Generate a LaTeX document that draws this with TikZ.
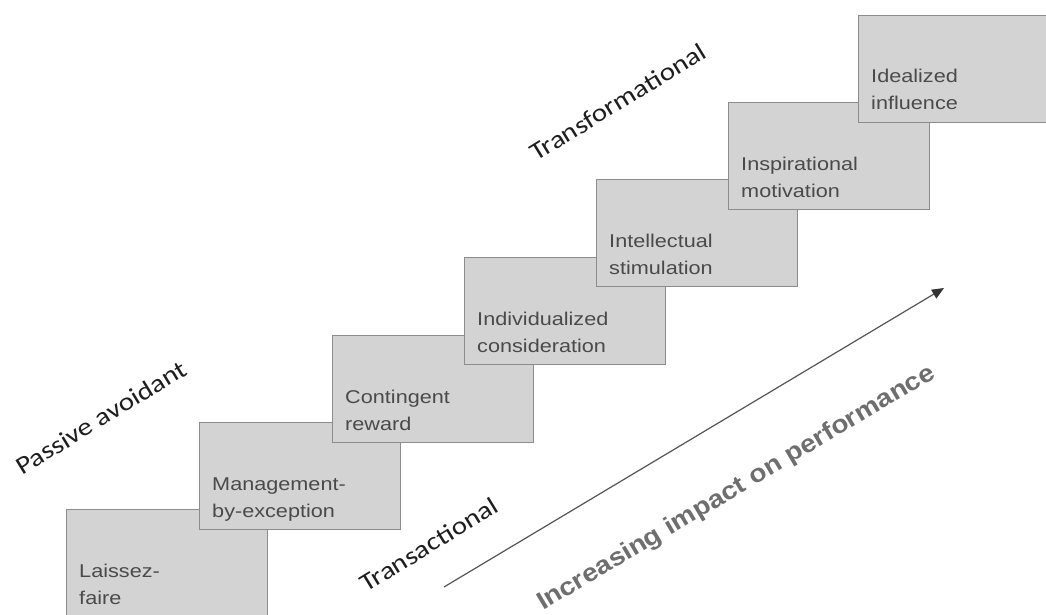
\documentclass[tikz,border=0pt]{standalone}
\usepackage{fontspec}
\setmainfont{Liberation Sans}
\newfontfamily\calib{Carlito}
\usetikzlibrary{arrows.meta}
\definecolor{boxfill}{HTML}{D3D3D3}
\definecolor{boxline}{HTML}{8C8C8C}
\definecolor{boxtext}{HTML}{4A4A4A}
\definecolor{bigtext}{HTML}{6E6E6E}
\definecolor{lbltext}{HTML}{1E1E1E}
\definecolor{arrowcol}{HTML}{555555}
\begin{document}
\begin{tikzpicture}[x=1pt,y=-1pt,
  stepbox/.style={draw=boxline, fill=boxfill, line width=1.1pt, minimum width=201pt, minimum height=107pt, inner sep=0pt, anchor=north west},
  boxlbl/.style={text=boxtext, font=\fontsize{18.5}{27}\selectfont, align=left, inner sep=0pt, anchor=base west, xscale=1.17},
  tilt/.style={text=lbltext, font=\calib\fontsize{25}{30}\selectfont, inner sep=0pt, anchor=base west, rotate=31.5, xscale=1.17},
]
\clip (0,0) rectangle (1046,615);
\fill[white] (0,0) rectangle (1046,615);
% boxes (later ones on top)
\node[stepbox] (b1) at (66,509) {};
\node[stepbox] (b2) at (199,422) {};
\node[stepbox] (b3) at (332,335) {};
\node[stepbox] (b4) at (464,257) {};
\node[stepbox] (b5) at (596,179) {};
\node[stepbox] (b6) at (728,102) {};
\node[stepbox] (b7) at (858,15) {};
% box texts (anchor = baseline of last line)
\node[boxlbl] (t1) at (79,604) {Laissez-\\faire};
\node[boxlbl] (t2) at (212,517) {Management-\\by-exception};
\node[boxlbl] (t3) at (345,430) {Contingent\\reward};
\node[boxlbl] (t4) at (477,352) {Individualized\\consideration};
\node[boxlbl] (t5) at (609,274) {Intellectual\\stimulation};
\node[boxlbl] (t6) at (741,197) {Inspirational\\motivation};
\node[boxlbl] (t7) at (871,110) {Idealized\\influence};
% tilted labels
\node[tilt] (pa) at (22,476) {Passive avoidant};
\node[tilt] (tr) at (366,593) {Transactional};
\node[tilt] (tf) at (536,162) {Transformational};
\node[text=bigtext, font=\bfseries\fontsize{25}{30}\selectfont, inner sep=0pt, anchor=base west, rotate=30.7, xscale=1.12] (inc) at (543,611) {Increasing impact on performance};
% arrow
\coordinate (a0) at (444,587);
\coordinate (a1) at (944,288);
\draw[arrowcol, line width=1.2pt, -{Triangle[length=12pt,width=10pt,color=black!80]}] (a0) -- (a1);
\end{tikzpicture}
\end{document}
